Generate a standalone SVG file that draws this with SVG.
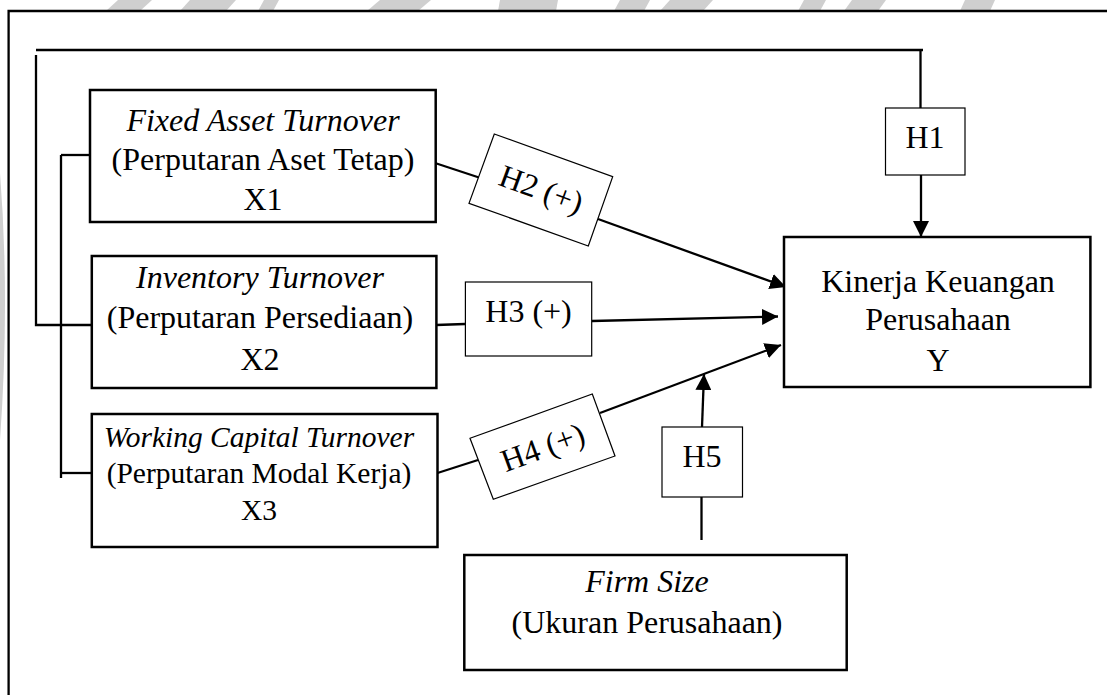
<svg xmlns="http://www.w3.org/2000/svg" width="1107" height="695" viewBox="0 0 1107 695">
<defs>
<style>
text{font-family:"Liberation Serif","Times New Roman",serif;font-size:32px;fill:#000;text-anchor:middle}
.it{font-style:italic}
.sm{font-size:29.5px}
.box{fill:#fff;stroke:#000;stroke-width:2.5}
.hb{fill:#fff;stroke:#000;stroke-width:1.2}
.ln{fill:none;stroke:#000;stroke-width:2.3}
.ar{fill:none;stroke:#000;stroke-width:2.3;marker-end:url(#ah)}
.wm{fill:#cfcfcf}
</style>
<marker id="ah" markerUnits="userSpaceOnUse" markerWidth="16" markerHeight="16" viewBox="0 0 16 16" refX="16" refY="8" orient="auto">
<path d="M0,0 L16,8 L0,16 z" fill="#000"/>
</marker>
</defs>
<rect width="1107" height="695" fill="#fff"/>
<g id="watermark">
<path class="wm" d="M0,173 Q10,300 0,440 Z"/>
<polygon class="wm" points="106,11 118,0 152,0 140,11"/>
<polygon class="wm" points="180,11 190,0 236,0 226,11"/>
<polygon class="wm" points="258,11 264,0 279,0 273,11"/>
<polygon class="wm" points="367,11 380,0 431,0 418,11"/>
<polygon class="wm" points="498,11 500,0 558,0 556,11"/>
<polygon class="wm" points="614,11 620,0 650,0 644,11"/>
<polygon class="wm" points="660,11 670,0 713,0 703,11"/>
<polygon class="wm" points="798,11 804,0 826,0 820,11"/>
<polygon class="wm" points="844,11 852,0 886,0 878,11"/>
<polygon class="wm" points="960,11 965,0 995,0 990,11"/>
</g>
<path class="ln" d="M8.6,695 V11 H1107"/>
<g id="connectors">
<path class="ln" d="M36,50 H923"/>
<path class="ln" d="M36,55 V325 H94"/>
<path class="ln" d="M61,155 V478"/>
<path class="ln" d="M61,155 H90"/>
<path class="ln" d="M61,473 H92"/>
<path class="ln" d="M920.5,50 V108"/>
<path class="ar" d="M921,175 V237"/>
<path class="ln" d="M435,163 L479,177.5"/>
<path class="ar" d="M598,219 L786,287"/>
<path class="ln" d="M436,325 L465,324"/>
<path class="ar" d="M592,321 L778,316.5"/>
<path class="ln" d="M437.5,473 L478,460"/>
<path class="ar" d="M600,413 L781,345"/>
<path class="ln" d="M701.5,540 V497"/>
<path class="ar" d="M702,427 L704,374"/>
</g>
<g id="x1">
<rect class="box" x="90" y="90" width="345.7" height="132"/>
<text x="263" y="131" class="it">Fixed Asset Turnover</text>
<text x="263" y="170">(Perputaran Aset Tetap)</text>
<text x="263" y="210">X1</text>
</g>
<g id="x2">
<rect class="box" x="91.8" y="256" width="344.6" height="132"/>
<text x="260" y="288" class="it">Inventory Turnover</text>
<text x="260" y="328">(Perputaran Persediaan)</text>
<text x="260" y="370">X2</text>
</g>
<g id="x3">
<rect class="box" x="91.8" y="414" width="345.7" height="133"/>
<text x="259" y="447" class="it sm">Working Capital Turnover</text>
<text x="259" y="483" class="sm">(Perputaran Modal Kerja)</text>
<text x="259" y="520" class="sm">X3</text>
</g>
<g id="y">
<rect class="box" x="784" y="237" width="306.4" height="150"/>
<text x="938" y="292">Kinerja Keuangan</text>
<text x="938" y="330">Perusahaan</text>
<text x="938" y="371">Y</text>
</g>
<g id="firmsize">
<rect class="box" x="464.3" y="555" width="382.4" height="115"/>
<text x="647" y="592" class="it">Firm Size</text>
<text x="647" y="633">(Ukuran Perusahaan)</text>
</g>
<g id="h1">
<rect class="hb" x="885.5" y="108" width="79.5" height="67"/>
<text x="925" y="148">H1</text>
</g>
<g id="h2">
<polygon class="hb" points="494.3,134 612.7,176.7 588.3,246 469,203.3"/>
<text x="541" y="200" transform="rotate(20 541 190)">H2 (+)</text>
</g>
<g id="h3">
<rect class="hb" x="465.4" y="282" width="126.3" height="74"/>
<text x="528.5" y="322">H3 (+)</text>
</g>
<g id="h4">
<polygon class="hb" points="470,438.3 592.3,394 615,456 493.3,499.3"/>
<text x="542.7" y="458" transform="rotate(-20 542.7 447)">H4 (+)</text>
</g>
<g id="h5">
<rect class="hb" x="662" y="427" width="80.5" height="70"/>
<text x="702" y="467">H5</text>
</g>
</svg>
